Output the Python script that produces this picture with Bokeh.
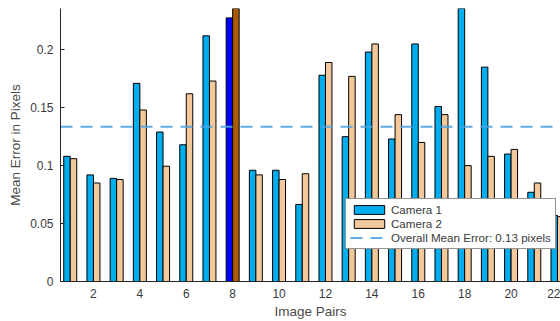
from bokeh.plotting import figure
from bokeh.models import ColumnDataSource, FixedTicker, Legend, LegendItem, Range1d
from bokeh.embed import file_html
from bokeh.resources import INLINE

# Mean reprojection error per stereo image pair
pairs = list(range(1, 23))
camera1 = [0.108, 0.092, 0.089, 0.171, 0.129, 0.118, 0.212, 0.2275, 0.096, 0.096, 0.0665,
           0.178, 0.125, 0.198, 0.123, 0.205, 0.151, 0.240, 0.185, 0.110, 0.077, 0.057]
camera2 = [0.106, 0.085, 0.088, 0.148, 0.0995, 0.162, 0.173, 0.245, 0.092, 0.088, 0.093,
           0.189, 0.177, 0.205, 0.144, 0.120, 0.144, 0.100, 0.108, 0.114, 0.085, 0.056]
selected_pair = 8

x_ticks = list(range(2, 23, 2))
y_ticks = [0, 0.05, 0.1, 0.15, 0.2]
y_tick_labels = ["0", "0.05", "0.1", "0.15", "0.2"]

all_errors = camera1 + camera2
overall_mean = sum(all_errors) / len(all_errors)

CAM1 = "#00AEEF"
CAM2 = "#F3C99B"
CAM1_SEL = "#0000FF"
CAM2_SEL = "#A85A06"
TEXT = "#3a3a3a"
FONT = "Liberation Sans"

offset = 0.14
bar_w = 0.28

src1 = ColumnDataSource(dict(
    x=[p - offset for p in pairs], top=camera1,
    color=[CAM1_SEL if p == selected_pair else CAM1 for p in pairs]))
src2 = ColumnDataSource(dict(
    x=[p + offset for p in pairs], top=camera2,
    color=[CAM2_SEL if p == selected_pair else CAM2 for p in pairs]))

x_start, x_end = 0.58, 22.13
p = figure(width=560, height=321, output_backend="svg", toolbar_location=None,
           x_range=Range1d(x_start, x_end), y_range=Range1d(0, 0.2356),
           min_border_left=60, min_border_right=0, min_border_top=8, min_border_bottom=39)
p.outline_line_color = None
p.grid.visible = False
p.background_fill_color = "white"
p.border_fill_color = "white"

r1 = p.vbar(x="x", top="top", width=bar_w, source=src1, fill_color="color",
            line_color="black", line_width=1)
r2 = p.vbar(x="x", top="top", width=bar_w, source=src2, fill_color="color",
            line_color="black", line_width=1)
r_mean = p.line(x=[x_start, x_end], y=[overall_mean, overall_mean],
                line_color="#4EA3E2", line_width=2, line_dash="12 8", line_alpha=0.9)

for ax in (p.xaxis[0], p.yaxis[0]):
    ax.axis_line_color = "#262626"
    ax.major_tick_line_color = "#262626"
    ax.minor_tick_line_color = None
    ax.major_tick_out = 0
    ax.major_label_text_font = FONT
    ax.major_label_text_font_size = "12px"
    ax.major_label_text_color = TEXT
    ax.axis_label_text_font = FONT
    ax.axis_label_text_font_size = "13.5px"
    ax.axis_label_text_font_style = "normal"
    ax.axis_label_text_color = "#4a4a4a"

p.xaxis.ticker = FixedTicker(ticks=x_ticks)
p.xaxis.major_tick_in = 0
p.xaxis.major_label_standoff = 7
p.xaxis.axis_label = "Image Pairs"
p.xaxis.axis_label_standoff = 3

p.yaxis.ticker = FixedTicker(ticks=y_ticks)
p.yaxis.major_label_overrides = dict(zip(y_ticks, y_tick_labels))
p.yaxis.major_tick_in = 4
p.yaxis.major_label_standoff = 7
p.yaxis.axis_label = "Mean Error in Pixels"
p.yaxis.axis_label_standoff = 4

legend = Legend(items=[
    LegendItem(label="Camera 1", renderers=[r1], index=0),
    LegendItem(label="Camera 2", renderers=[r2], index=0),
    LegendItem(label="Overall Mean Error: %.2f pixels" % overall_mean, renderers=[r_mean]),
], location=(285, 32))
legend.label_text_font = FONT
legend.label_text_font_size = "11.6px"
legend.label_text_color = TEXT
legend.glyph_width = 38
legend.glyph_height = 11
legend.label_height = 12
legend.label_standoff = 3
legend.spacing = 1
legend.padding = 4
legend.margin = 0
legend.border_line_color = "#262626"
legend.border_line_width = 1
legend.background_fill_color = "white"
legend.background_fill_alpha = 1
p.add_layout(legend, "center")

open("out.html", "w").write(file_html(p, INLINE))
